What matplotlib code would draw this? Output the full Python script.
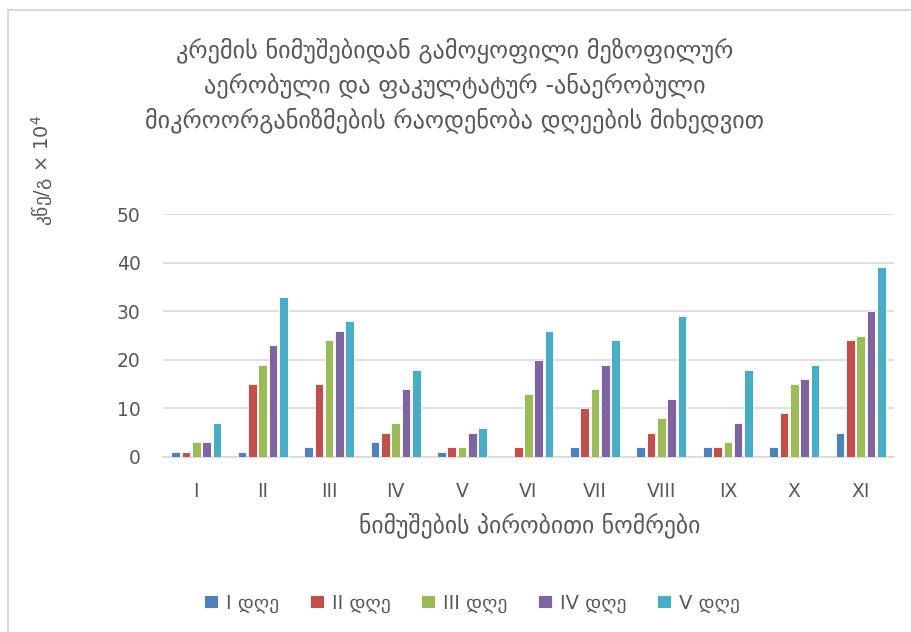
import matplotlib
matplotlib.use("Agg")
import matplotlib.pyplot as plt
from matplotlib.patches import Rectangle
import numpy as np

plt.rcParams['font.family'] = ['DejaVu Sans']

samples = ["I", "II", "III", "IV", "V", "VI", "VII", "VIII", "IX", "X", "XI"]
day_labels = ["I დღე", "II დღე", "III დღე", "IV დღე", "V დღე"]
day1 = [1, 1, 2, 3, 1, 0, 2, 2, 2, 2, 5]
day2 = [1, 15, 15, 5, 2, 2, 10, 5, 2, 9, 24]
day3 = [3, 19, 24, 7, 2, 13, 14, 8, 3, 15, 25]
day4 = [3, 23, 26, 14, 5, 20, 19, 12, 7, 16, 30]
day5 = [7, 33, 28, 18, 6, 26, 24, 29, 18, 19, 39]
series = [day1, day2, day3, day4, day5]
colors = ["#4F81BD", "#C0504D", "#9BBB59", "#8064A2", "#4BACC6"]

title = ("კრემის ნიმუშებიდან გამოყოფილი მეზოფილურ\n"
         "აერობული და ფაკულტატურ -ანაერობული\n"
         "მიკროორგანიზმების რაოდენობა დღეების მიხედვით")
y_label = "კწე/გ × 10$^4$"
x_label = "ნიმუშების პირობითი ნომრები"

text_color = "#595959"

fig = plt.figure(figsize=(9.11, 6.32), dpi=100)
fig.patch.set_facecolor("white")

# light frame around the chart
fig.add_artist(Rectangle((8 / 911, -0.05), 1.05, 1 - 10 / 632 + 0.05,
                         transform=fig.transFigure, fill=False,
                         edgecolor="#D9D9D9", linewidth=1.5))

ax = fig.add_axes([163 / 911, 1 - 457 / 632, (894 - 163) / 911, (457 - 214) / 632])
x = np.arange(len(samples))
slot = 0.155
bw = 0.13
for i, (vals, c, lab) in enumerate(zip(series, colors, day_labels)):
    ax.bar(x + (i - 2) * slot, vals, width=bw, color=c, label=lab,
           edgecolor="white", linewidth=0.6, zorder=3)

ax.set_xlim(-0.5, len(samples) - 0.5)
ax.set_ylim(0, 50)
ax.set_yticks(range(0, 51, 10))
ax.set_xticks(x)
ax.set_xticklabels(samples)
ax.yaxis.grid(True, color="#D9D9D9", linewidth=1.2, zorder=0)
ax.set_axisbelow(True)
for s in ["top", "right", "left"]:
    ax.spines[s].set_visible(False)
ax.spines["bottom"].set_color("#D9D9D9")
ax.spines["bottom"].set_linewidth(1.2)
ax.tick_params(axis="both", length=0, labelsize=13.5, colors=text_color)
ax.tick_params(axis="y", pad=16)
ax.tick_params(axis="x", pad=18)

fig.text(455 / 911, 1 - 85 / 632, title, ha="center", va="center",
         fontsize=17.5, color=text_color, linespacing=1.45)
fig.text(42 / 911, 1 - 170 / 632, y_label, rotation=90, ha="center", va="center",
         fontsize=14, color=text_color)
fig.text(530 / 911, 1 - 525 / 632, x_label, ha="center", va="center",
         fontsize=17, color=text_color)

leg = fig.legend(loc="center", bbox_to_anchor=(472 / 911, 1 - 603 / 632), ncol=5,
                 frameon=False, fontsize=14, handlelength=0.7, handleheight=0.7,
                 columnspacing=1.6, handletextpad=0.4)
for t in leg.get_texts():
    t.set_color(text_color)

fig.savefig("out.png", dpi=100)
